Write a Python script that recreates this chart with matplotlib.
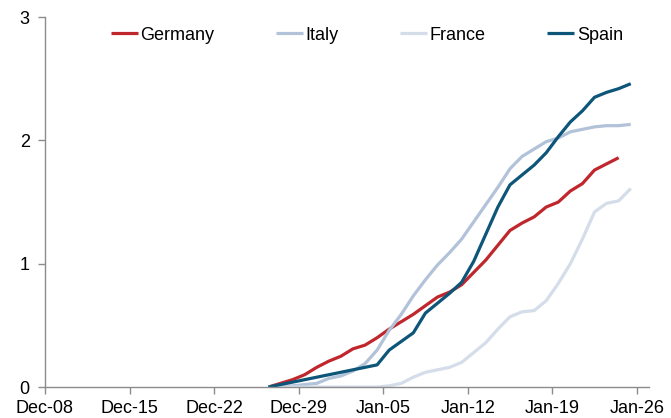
import numpy as np
import pandas as pd
import matplotlib
matplotlib.use("Agg")
import matplotlib.pyplot as plt
import matplotlib.dates as mdates

plt.rcParams['font.family'] = ['Liberation Sans', 'DejaVu Sans']

# daily observations starting Dec-27
start = pd.Timestamp('2020-12-27')
germany = [0.00, 0.03, 0.06, 0.10, 0.16, 0.21, 0.25, 0.31, 0.34, 0.40,
           0.47, 0.53, 0.59, 0.66, 0.73, 0.77, 0.83, 0.93, 1.03, 1.15,
           1.27, 1.33, 1.38, 1.46, 1.50, 1.59, 1.65, 1.76, 1.81, 1.86]
italy = [0.00, 0.00, 0.01, 0.02, 0.03, 0.07, 0.09, 0.13, 0.19, 0.30,
         0.46, 0.59, 0.74, 0.87, 0.99, 1.09, 1.20, 1.34, 1.48, 1.62,
         1.77, 1.87, 1.93, 1.99, 2.02, 2.07, 2.09, 2.11, 2.12, 2.12, 2.13]
france = [0.00, 0.00, 0.00, 0.00, 0.00, 0.00, 0.00, 0.00, 0.00, 0.00,
          0.01, 0.03, 0.08, 0.12, 0.14, 0.16, 0.20, 0.28, 0.36, 0.47,
          0.57, 0.61, 0.62, 0.70, 0.84, 1.00, 1.20, 1.42, 1.49, 1.51, 1.61]
spain = [0.00, 0.02, 0.04, 0.06, 0.08, 0.10, 0.12, 0.14, 0.16, 0.18,
         0.30, 0.37, 0.44, 0.60, 0.68, 0.76, 0.85, 1.02, 1.24, 1.46,
         1.64, 1.72, 1.80, 1.90, 2.03, 2.15, 2.24, 2.35, 2.39, 2.42, 2.46]

series = [
    ('Germany', germany, '#C0272D'),
    ('Italy', italy, '#B1C2D9'),
    ('France', france, '#D4DDE9'),
    ('Spain', spain, '#0D5679'),
]

fig = plt.figure(figsize=(6.71, 4.18), dpi=100)
ax = fig.add_axes([0.067, 0.074, 0.90, 0.885])

for name, vals, col in series:
    # points sit between tick marks, half a day before the date
    x = pd.date_range(start, periods=len(vals), freq='D') - pd.Timedelta(hours=12)
    ax.plot(x, vals, color=col, lw=2.3, label=name, solid_capstyle='butt')

ax.set_ylim(0, 3)
ax.set_yticks([0, 1, 2, 3])
ax.set_xlim(pd.Timestamp('2020-12-08'), pd.Timestamp('2021-01-27'))
ax.set_xticks(pd.date_range('2020-12-08', '2021-01-26', freq='7D'))
ax.xaxis.set_major_formatter(mdates.DateFormatter('%b-%d'))

for s in ['top', 'right']:
    ax.spines[s].set_visible(False)
for s in ['left', 'bottom']:
    ax.spines[s].set_color('#8c8c8c')
    ax.spines[s].set_linewidth(1.0)
ax.tick_params(axis='both', colors='#8c8c8c', labelcolor='black',
               labelsize=13, length=5, width=1.0)
ax.tick_params(axis='y', pad=6)
ax.tick_params(axis='x', pad=4)

ax.legend(loc='center', bbox_to_anchor=(0.533, 0.951), ncol=4, frameon=False,
          fontsize=13, handlelength=1.5, handletextpad=0.15, columnspacing=3.4)

fig.savefig('out.png', dpi=100)
